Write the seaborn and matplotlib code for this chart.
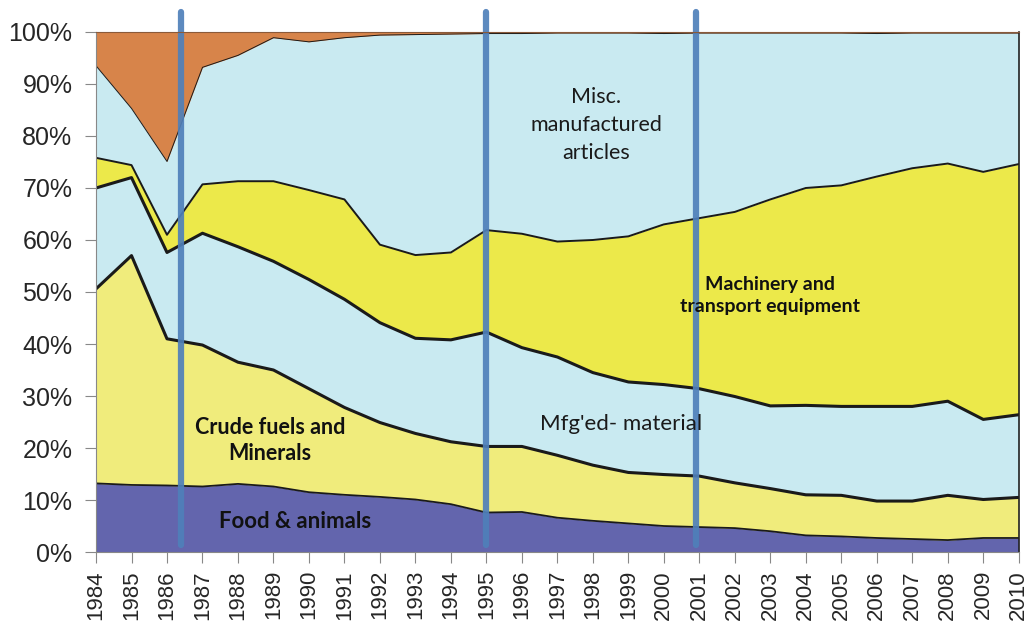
import numpy as np
import pandas as pd
import seaborn as sns
import matplotlib.pyplot as plt
from matplotlib.ticker import FuncFormatter

# 数据（各类占比，%）
years = list(range(1984, 2011))
food = [13.2, 12.9, 12.8, 12.6, 13.1, 12.6, 11.5, 11.0, 10.6, 10.1, 9.2, 7.6, 7.7, 6.6,
        6.0, 5.5, 5.0, 4.8, 4.6, 4.0, 3.2, 3.0, 2.7, 2.5, 2.3, 2.7, 2.7]
crude = [37.4, 44.1, 28.2, 27.2, 23.4, 22.4, 19.9, 16.8, 14.3, 12.7, 12.0, 12.7, 12.6, 12.0,
         10.7, 9.8, 9.9, 9.8, 8.7, 8.2, 7.8, 7.9, 7.1, 7.3, 8.6, 7.4, 7.8]
mfg = [19.4, 15.0, 16.6, 21.5, 22.2, 20.9, 21.0, 20.8, 19.2, 18.3, 19.6, 22.0, 19.0, 18.9,
       17.8, 17.4, 17.3, 16.8, 16.6, 15.9, 17.2, 17.1, 18.2, 18.2, 18.1, 15.4, 15.9]
machinery = [5.8, 2.4, 3.4, 9.4, 12.6, 15.4, 17.2, 19.2, 15.0, 16.0, 16.8, 19.6, 21.9, 22.2,
             25.5, 28.0, 30.8, 32.8, 35.5, 39.7, 41.8, 42.5, 44.2, 45.8, 45.7, 47.6, 48.2]
misc = [17.7, 10.9, 14.1, 22.5, 24.2, 27.6, 28.5, 31.1, 40.3, 42.4, 42.0, 37.8, 38.5, 40.1,
        39.8, 39.1, 36.7, 35.6, 34.4, 32.0, 29.8, 29.3, 27.5, 26.0, 25.1, 26.7, 25.2]
other = [6.5, 14.7, 24.9, 6.8, 4.5, 1.1, 1.9, 1.1, 0.6, 0.5, 0.4, 0.3, 0.3, 0.2,
         0.2, 0.2, 0.3, 0.2, 0.2, 0.2, 0.2, 0.2, 0.3, 0.2, 0.2, 0.2, 0.2]
break_years = [1986.4, 1995, 2000.9]

df = pd.DataFrame({'food': food, 'crude': crude, 'mfg': mfg,
                   'machinery': machinery, 'misc': misc, 'other': other}, index=years)
shares = df.div(df.sum(axis=1), axis=0) * 100
cum = shares.cumsum(axis=1)

colors = ['#6365AD', '#F0EC7C', '#C9EAF1', '#ECE94A', '#C9EAF1', '#D7844A']
edge_lw = [1.3, 2.2, 2.2, 1.4, 0.7]

sns.set_style("white")
plt.rcParams['font.family'] = ['Lato', 'DejaVu Sans']
tick_font = ['Liberation Sans Narrow', 'Liberation Sans', 'DejaVu Sans']

fig, ax = plt.subplots(figsize=(10.28, 6.22), dpi=100)
fig.subplots_adjust(left=0.0934, right=0.991, top=0.9486, bottom=0.1125)

ax.stackplot(shares.index, shares.T.values, colors=colors, linewidth=0)
for col, lw in zip(cum.columns[:-1], edge_lw):
    sns.lineplot(x=cum.index, y=cum[col], color='#1a1a1a', linewidth=lw, ax=ax)

for x in break_years:
    ax.axvline(x, ymin=0.013, ymax=1.038, clip_on=False, color='#4F80BA', lw=4.5, alpha=0.92)

ax.set_xlim(1984, 2010)
ax.set_ylim(0, 100)
ax.set_xticks(years)
ax.set_xticklabels([str(y) for y in years], rotation=90, fontsize=16, family=tick_font)
ax.set_yticks(range(0, 101, 10))
ax.yaxis.set_major_formatter(FuncFormatter(lambda v, p: f'{int(v)}%'))
for lab in ax.get_yticklabels():
    lab.set_family(tick_font)
ax.tick_params(axis='y', labelsize=18, length=8, pad=9, color='#888888', direction='out', left=True)
ax.tick_params(axis='x', length=8, pad=5, color='#888888', direction='out', bottom=True)
ax.set_xlabel('')
ax.set_ylabel('')

for side in ['left', 'bottom']:
    ax.spines[side].set_color('#888888')
ax.spines['right'].set_color('#222222')
ax.spines['right'].set_linewidth(1.2)
ax.spines['top'].set_color('#8a5a3a')
ax.spines['top'].set_linewidth(0.8)

ax.text(1998.1, 82.1, 'Misc.\nmanufactured\narticles', ha='center', va='center',
        fontsize=15.5, linespacing=1.5, color='#1a1a1a')
ax.text(2003.0, 49.4, 'Machinery and\ntransport equipment', ha='center', va='center',
        fontsize=14, fontweight='bold', linespacing=1.35, color='#111111')
ax.text(1998.8, 24.6, "Mfg'ed- material", ha='center', va='center',
        fontsize=16, color='#1a1a1a')
ax.text(1988.9, 21.5, 'Crude fuels and\nMinerals', ha='center', va='center',
        fontsize=15.5, fontweight='bold', linespacing=1.3, color='#111111')
ax.text(1989.6, 5.8, 'Food & animals', ha='center', va='center',
        fontsize=16, fontweight='bold', color='#111111')

plt.savefig('out.png', dpi=100)
